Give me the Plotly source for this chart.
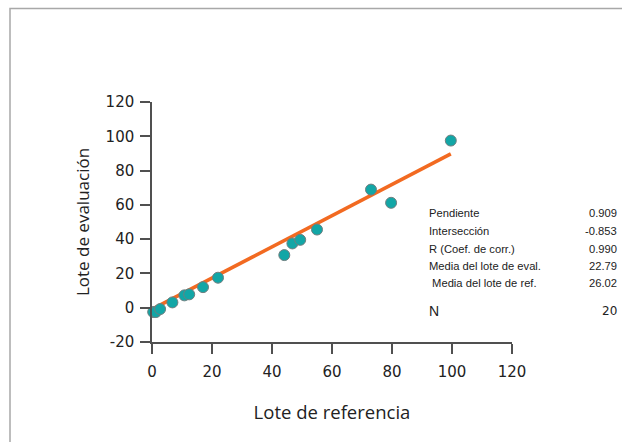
import plotly.graph_objects as go

# Data
ref_lot = [0.4, 1.3, 2.7, 6.8, 10.8, 12.4, 17.0, 22.0, 44.1, 46.8, 49.4, 55.0, 73.0, 79.7, 99.6]
eval_lot = [-2.5, -2.5, -0.8, 3.1, 7.2, 7.8, 12.0, 17.5, 30.7, 37.5, 39.6, 45.6, 68.9, 61.2, 97.5]

stat_labels = ["Pendiente", "Intersección", "R (Coef. de corr.)", "Media del lote de eval.",
               " Media del lote de ref.", "N"]
stat_values = ["0.909", "-0.853", "0.990", "22.79", "26.02", "20"]
slope = 0.909
intercept = -0.853

x_ticks = [0, 20, 40, 60, 80, 100, 120]
y_ticks = [-20, 0, 20, 40, 60, 80, 100, 120]

W, H = 622, 442
ML, MR, MT, MB = 152, 110, 102, 100
PW = W - ML - MR
PH = H - MT - MB

fit_x = [min(ref_lot), max(ref_lot)]
fit_y = [slope * v + intercept for v in fit_x]

fig = go.Figure()
fig.add_trace(go.Scatter(x=fit_x, y=fit_y, mode="lines",
                         line=dict(color="#f26a21", width=3.6), hoverinfo="skip",
                         cliponaxis=False))
fig.add_trace(go.Scatter(x=ref_lot, y=eval_lot, mode="markers",
                         marker=dict(color="#12a6a6", size=11,
                                     line=dict(color="#6f7f80", width=1)),
                         cliponaxis=False))

axis_col = "#505050"
tick_font = dict(family="DejaVu Sans", size=15, color="#222")
fig.update_xaxes(range=[0, 120], tickvals=x_ticks, ticktext=[str(v) for v in x_ticks],
                 showgrid=False, zeroline=False, showline=True, linecolor=axis_col, linewidth=1.5,
                 ticks="outside", ticklen=10, tickwidth=1.5, tickcolor=axis_col,
                 tickfont=tick_font, ticklabelstandoff=5,
                 title=dict(text="Lote de referencia", standoff=26,
                            font=dict(family="Open Sans", size=18.5, color="#222")))
fig.update_yaxes(range=[-20, 120], tickvals=y_ticks, ticktext=[str(v) for v in y_ticks],
                 showgrid=False, zeroline=False, showline=True, linecolor=axis_col, linewidth=1.5,
                 ticks="outside", ticklen=10, tickwidth=1.5, tickcolor=axis_col,
                 tickfont=tick_font, ticklabelstandoff=3,
                 title=dict(text="Lote de evaluación", standoff=12,
                            font=dict(family="Open Sans", size=17, color="#222")))

shapes = []
# axis line extensions past the crossing point
shapes.append(dict(type="line", xref="x", yref="paper", x0=0, x1=0, y0=0, y1=-10 / PH,
                   line=dict(color=axis_col, width=1.5)))
shapes.append(dict(type="line", xref="paper", yref="y", x0=0, x1=-10 / PW, y0=-20, y1=-20,
                   line=dict(color=axis_col, width=1.5)))
# outer frame
def px_x(p):
    return (p - ML) / PW
def px_y(p):
    return (H - MB - p) / PH
shapes.append(dict(type="rect", xref="paper", yref="paper",
                   x0=px_x(10), x1=px_x(W + 5), y0=px_y(8.5), y1=px_y(H + 5),
                   line=dict(color="#a8a8a8", width=1.5), fillcolor="rgba(0,0,0,0)"))

annotations = []
row_y = [213, 231, 249, 266, 283, 311]
for lab, val, yy in zip(stat_labels, stat_values, row_y):
    big = lab == "N"
    annotations.append(dict(xref="paper", yref="paper", x=px_x(427), y=px_y(yy),
                            text=lab, showarrow=False, xanchor="left", yanchor="middle",
                            font=dict(family="Liberation Sans", size=14 if big else 11.2,
                                      color="#222")))
    annotations.append(dict(xref="paper", yref="paper", x=px_x(619), y=px_y(yy),
                            text=val, showarrow=False, xanchor="right", yanchor="middle",
                            font=dict(family="DejaVu Sans" if big else "Liberation Sans",
                                      size=12 if big else 11.2, color="#222")))

fig.update_layout(width=W, height=H, margin=dict(l=ML, r=MR, t=MT, b=MB, autoexpand=False),
                  plot_bgcolor="white", paper_bgcolor="white", showlegend=False,
                  shapes=shapes, annotations=annotations)

fig.write_html("out.html", config={"displayModeBar": False},
               post_script="document.body.style.margin='0';document.body.style.overflow='hidden';")
